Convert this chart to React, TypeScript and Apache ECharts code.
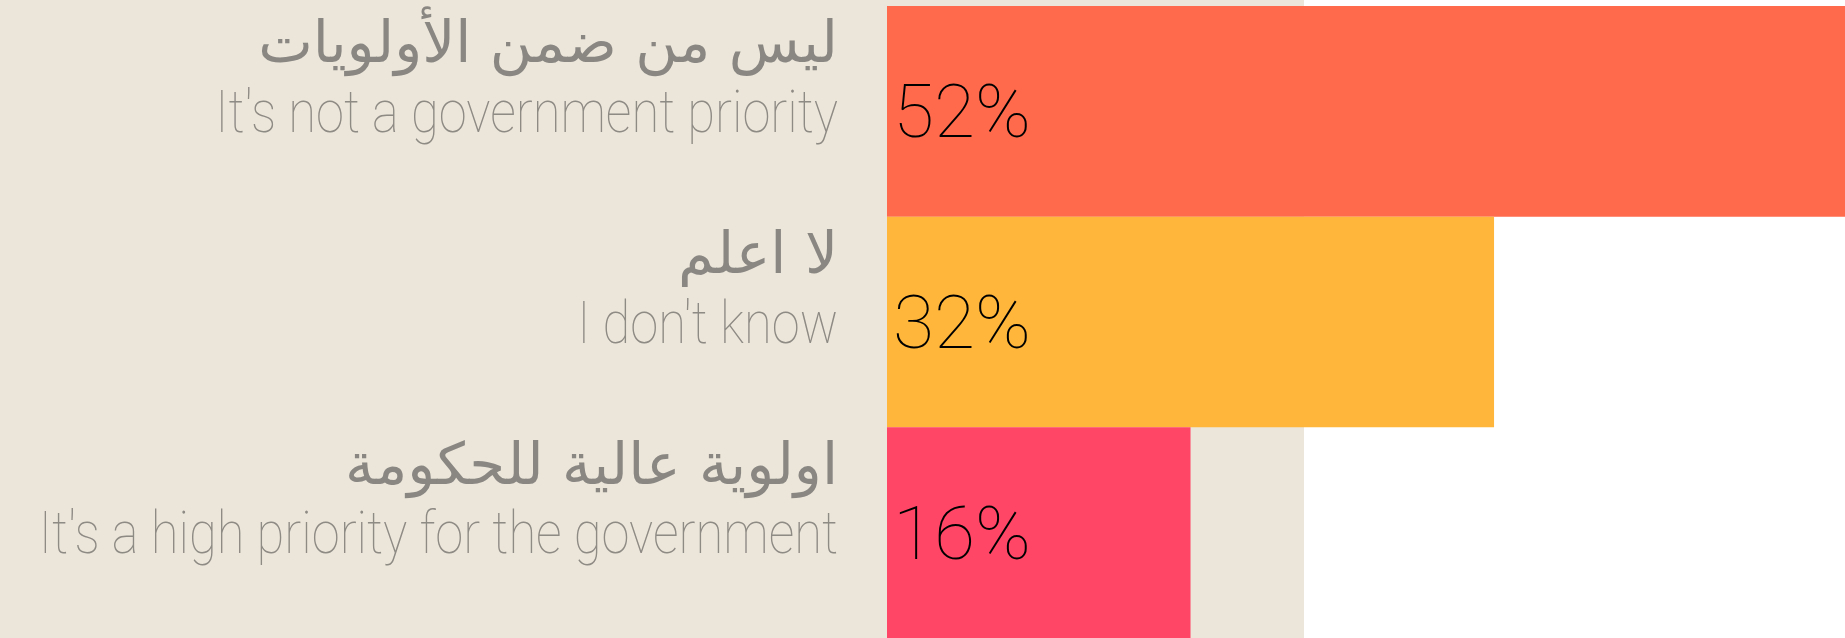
import React, { useEffect, useRef } from "react";
import * as echarts from "echarts";

const categoriesAr = ["ليس من ضمن الأولويات", "لا اعلم", "اولوية عالية للحكومة"];
const categoriesEn = ["It's not a government priority", "I don't know", "It's a high priority for the government"];
const values = [52, 32, 16];
const barColors = ["#FF6A4C", "#FFB63B", "#FF4667"];

export default function App() {
  const ref = useRef<HTMLDivElement>(null);
  useEffect(() => {
    if (!ref.current) return;
    const chart = echarts.init(ref.current, null, { renderer: "svg" });
    chart.setOption({
      animation: false,
      backgroundColor: "#ffffff",
      graphic: [
        {
          type: "rect",
          id: "bg",
          z: -10,
          shape: { x: 0, y: 0, width: 1304, height: 638 },
          style: { fill: "#ECE6DA" },
          silent: true,
        },
      ],
      grid: { left: 887, right: 0, top: 6, bottom: 0, containLabel: false, outerBoundsMode: "none" },
      xAxis: {
        type: "value",
        min: 0,
        max: 50.5,
        show: false,
        splitLine: { show: false },
      },
      yAxis: {
        type: "category",
        inverse: true,
        data: categoriesEn,
        axisLine: { show: false },
        axisTick: { show: false },
        splitLine: { show: false },
        axisLabel: { show: false },
      },
      series: [
        {
          type: "bar",
          data: values.map((v, i) => ({ value: v, itemStyle: { color: barColors[i] } })),
          barCategoryGap: "0%",
          barWidth: "100%",
          clip: true,
          label: {
            show: true,
            position: "insideLeft",
            distance: 6,
            formatter: "{c}%",
            fontFamily: "Roboto, sans-serif",
            fontWeight: 100,
            fontSize: 75,
            color: "#000000",
          },
        },
      ],
    });

    // category labels placed from the axis scale
    const labelGap = 49;
    const texts: any[] = [];
    categoriesEn.forEach((en, i) => {
      const p = chart.convertToPixel({ gridIndex: 0 }, [0, i]) as number[];
      const x = p[0] - labelGap;
      const yc = p[1];
      texts.push({
        type: "text",
        id: "ar" + i,
        x,
        y: yc - 69,
        z: 5,
        silent: true,
        style: {
          text: categoriesAr[i],
          fontFamily: "'DejaVu Sans', sans-serif",
          fontSize: 58,
          fill: "#8a8783",
          align: "right",
          verticalAlign: "middle",
        },
      });
      texts.push({
        type: "text",
        id: "en" + i,
        x,
        y: yc,
        z: 5,
        scaleX: 0.845,
        silent: true,
        style: {
          text: en,
          fontFamily: "Roboto, sans-serif",
          fontWeight: 100,
          fontSize: 60,
          fill: "#8e8a84",
          align: "right",
          verticalAlign: "middle",
        },
      });
    });
    chart.setOption({ graphic: texts });

    return () => chart.dispose();
  }, []);
  return (
    <div
      ref={ref}
      style={{ position: "fixed", left: 0, top: 0, width: 1845, height: 638 }}
    />
  );
}
